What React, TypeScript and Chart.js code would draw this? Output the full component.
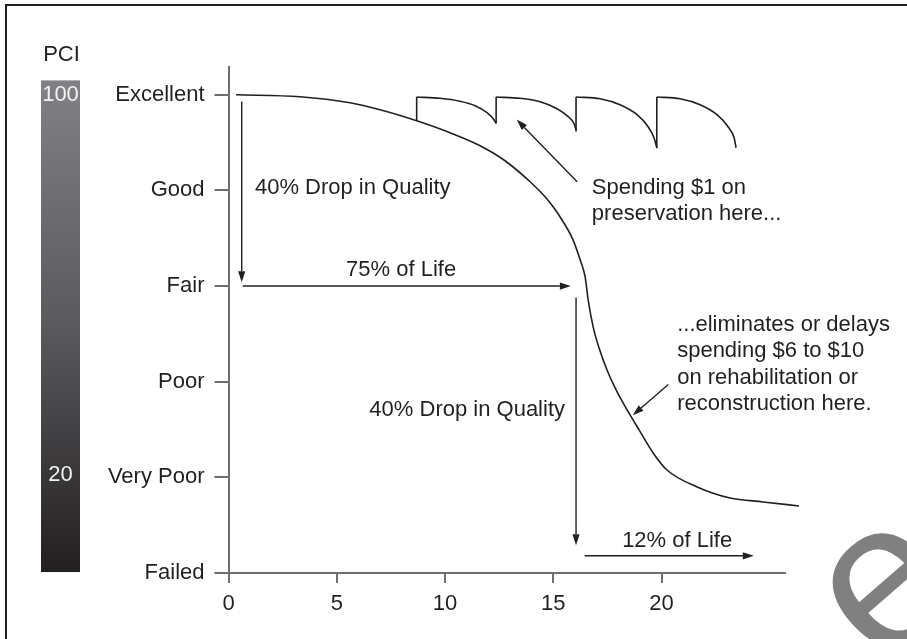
import { useEffect, useRef } from "react";
import { Chart, registerables } from "chart.js";

Chart.register(...registerables);

// ---------- data ----------
const conditionLabels = ["Failed", "Very Poor", "Poor", "Fair", "Good", "Excellent"];
const yearTickValues = [0, 5, 10, 15, 20];
const pciScaleLabels = ["100", "20"];

// main deterioration curve (x: years, y: condition level 0=Failed .. 5=Excellent)
const curveYears = [0.35, 3.3, 5.61, 7.0, 8.69, 10.23, 11.62, 12.77, 13.93, 14.62, 14.99, 15.31, 15.91, 16.24, 16.47, 16.61, 16.84, 17.11, 17.48, 17.9, 18.41, 18.96, 19.61, 20.25, 21.64, 23.16, 24.69, 26.35];
const curveCondition = [5.0, 4.979, 4.916, 4.843, 4.728, 4.603, 4.467, 4.31, 4.09, 3.933, 3.828, 3.724, 3.483, 3.274, 3.096, 2.856, 2.573, 2.354, 2.123, 1.914, 1.705, 1.496, 1.255, 1.077, 0.9, 0.785, 0.743, 0.701];

// preservation treatment cycles
const treatmentYears = [8.69, 12.36, 16.05, 19.78];
const treatmentFromCondition = [4.728, 4.7, 4.616, 4.44];
const treatmentToCondition = [4.976, 4.976, 4.976, 4.976];

const cycle1Years = [8.69, 9.77, 10.69, 11.39, 11.94, 12.26, 12.36];
const cycle1Condition = [4.976, 4.963, 4.932, 4.885, 4.812, 4.738, 4.7];
const cycle2Years = [12.36, 13.46, 14.39, 15.08, 15.64, 15.96, 16.05];
const cycle2Condition = [4.976, 4.963, 4.927, 4.864, 4.78, 4.697, 4.63];
const cycle3Years = [16.05, 17.16, 18.08, 18.87, 19.38, 19.65, 19.78];
const cycle3Condition = [4.976, 4.958, 4.895, 4.791, 4.665, 4.55, 4.446];
const cycle4Years = [19.78, 20.85, 21.78, 22.56, 23.07, 23.35, 23.44];
const cycle4Condition = [4.976, 4.958, 4.895, 4.791, 4.665, 4.55, 4.446];

// annotation arrows [x1, y1, x2(tip), y2(tip)]
const arrowLines = [
  [0.61, 4.93, 0.61, 3.04],
  [0.66, 3.0, 15.81, 3.0],
  [16.05, 2.88, 16.05, 0.29],
  [16.45, 0.18, 24.26, 0.18],
  [16.1, 4.09, 13.31, 4.74],
  [20.31, 1.97, 18.67, 1.65],
];

// annotation texts
const noteTexts = ["40% Drop in Quality", "75% of Life", "40% Drop in Quality", "12% of Life"];
const noteX = [1.22, 7.97, 15.54, 20.72];
const noteY = [4.03, 3.17, 1.705, 0.335];
const noteAlign = ["left", "center", "right", "center"];

const calloutPreservation = ["Spending $1 on", "preservation here..."];
const calloutRehab = ["...eliminates or delays", "spending $6 to $10", "on rehabilitation or", "reconstruction here."];

// ---------- styles ----------
const FONT = "'Liberation Sans', Arial, Helvetica, sans-serif";
const INK = "#231f20";
const AXIS = "#6d6e71";
const TEXT_SIZE = 22;

const pts = (xs: number[], ys: number[]) => xs.map((x, i) => ({ x, y: ys[i] }));

function drawArrow(ctx: CanvasRenderingContext2D, x1: number, y1: number, x2: number, y2: number) {
  const ang = Math.atan2(y2 - y1, x2 - x1);
  const len = 11;
  const hw = 3.6;
  const bx = x2 - len * Math.cos(ang);
  const by = y2 - len * Math.sin(ang);
  ctx.beginPath();
  ctx.moveTo(x1, y1);
  ctx.lineTo(bx, by);
  ctx.strokeStyle = INK;
  ctx.lineWidth = 1.4;
  ctx.stroke();
  ctx.beginPath();
  ctx.moveTo(x2, y2);
  ctx.lineTo(bx + hw * Math.sin(ang), by - hw * Math.cos(ang));
  ctx.lineTo(bx - hw * Math.sin(ang), by + hw * Math.cos(ang));
  ctx.closePath();
  ctx.fillStyle = INK;
  ctx.fill();
}

const decorPlugin = {
  id: "decor",
  beforeDraw(chart: any) {
    const { ctx } = chart;
    const ys = chart.scales.y;
    ctx.save();
    ctx.fillStyle = "#ffffff";
    ctx.fillRect(0, 0, chart.width, chart.height);
    // frame (top and left edges)
    ctx.fillStyle = INK;
    ctx.fillRect(5, 4, chart.width - 5, 2);
    ctx.fillRect(5, 4, 2, chart.height - 4);
    // PCI bar
    const top = ys.getPixelForValue(5.15);
    const bottom = ys.getPixelForValue(0.01);
    const g = ctx.createLinearGradient(0, top, 0, bottom);
    g.addColorStop(0, "#818185");
    g.addColorStop(0.5, "#5a5a5d");
    g.addColorStop(1, "#231f20");
    ctx.fillStyle = g;
    ctx.fillRect(41, top, 39, bottom - top);
    ctx.font = `${TEXT_SIZE}px ${FONT}`;
    ctx.textAlign = "center";
    ctx.textBaseline = "middle";
    ctx.fillStyle = INK;
    ctx.fillText("PCI", 61.5, 55);
    ctx.fillStyle = "#f2f2f2";
    ctx.fillText(pciScaleLabels[0], 60.5, ys.getPixelForValue(5.0));
    ctx.fillText(pciScaleLabels[1], 60.5, ys.getPixelForValue(1.03));
    ctx.restore();
  },
  afterDraw(chart: any) {
    const { ctx } = chart;
    const xs = chart.scales.x;
    const ys = chart.scales.y;
    const px = (v: number) => xs.getPixelForValue(v);
    const py = (v: number) => ys.getPixelForValue(v);
    ctx.save();
    arrowLines.forEach((a) => drawArrow(ctx, px(a[0]), py(a[1]), px(a[2]), py(a[3])));
    ctx.font = `${TEXT_SIZE}px ${FONT}`;
    ctx.fillStyle = INK;
    ctx.textBaseline = "middle";
    noteTexts.forEach((t, i) => {
      ctx.textAlign = noteAlign[i] as CanvasTextAlign;
      ctx.fillText(t, px(noteX[i]), py(noteY[i]));
    });
    ctx.textAlign = "left";
    calloutPreservation.forEach((t, i) => ctx.fillText(t, px(16.78), py(4.03) + i * 26.5));
    calloutRehab.forEach((t, i) => ctx.fillText(t, px(20.72), py(2.594) + i * 26.3));
    // watermark fragment in the corner
    ctx.translate(969, 594);
    ctx.rotate((-41 * Math.PI) / 180);
    ctx.font = `210px ${FONT}`;
    ctx.fillStyle = "#808080";
    ctx.textAlign = "right";
    ctx.textBaseline = "alphabetic";
    ctx.fillText("e", 0, 0);
    ctx.restore();
  },
};

export default function App() {
  const ref = useRef<HTMLCanvasElement | null>(null);
  useEffect(() => {
    if (!ref.current) return;
    const lineStyle = {
      borderColor: INK,
      borderWidth: 1.6,
      pointRadius: 0,
      fill: false,
      clip: false as any,
    };
    const datasets: any[] = [
      { ...lineStyle, data: pts(curveYears, curveCondition), cubicInterpolationMode: "monotone" },
      { ...lineStyle, data: pts(cycle1Years, cycle1Condition), cubicInterpolationMode: "monotone" },
      { ...lineStyle, data: pts(cycle2Years, cycle2Condition), cubicInterpolationMode: "monotone" },
      { ...lineStyle, data: pts(cycle3Years, cycle3Condition), cubicInterpolationMode: "monotone" },
      { ...lineStyle, data: pts(cycle4Years, cycle4Condition), cubicInterpolationMode: "monotone" },
      ...treatmentYears.map((x, i) => ({
        ...lineStyle,
        data: [
          { x, y: treatmentFromCondition[i] },
          { x, y: treatmentToCondition[i] },
        ],
      })),
    ];
    const tickFont = { family: FONT, size: TEXT_SIZE };
    const chart = new Chart(ref.current, {
      type: "line",
      data: { datasets },
      options: {
        animation: false,
        responsive: false,
        maintainAspectRatio: false,
        layout: { padding: { left: 0, right: 122, top: 67, bottom: 26 } },
        plugins: { legend: { display: false }, tooltip: { enabled: false } },
        scales: {
          x: {
            type: "linear",
            min: 0,
            max: 25.7,
            ticks: {
              stepSize: 5,
              includeBounds: false,
              padding: 8,
              color: INK,
              font: tickFont,
              maxRotation: 0,
            },
            afterBuildTicks: (s: any) => {
              s.ticks = yearTickValues.map((v) => ({ value: v }));
            },
            afterFit: (s: any) => {
              s.height = 40;
            },
            grid: { drawOnChartArea: false, drawTicks: true, tickLength: 10, color: AXIS, lineWidth: 2 },
            border: { display: true, color: AXIS, width: 2 },
          },
          y: {
            type: "linear",
            min: 0,
            max: 5.29,
            ticks: {
              stepSize: 1,
              includeBounds: false,
              padding: 10,
              color: INK,
              font: tickFont,
              callback: (v: any) => conditionLabels[Math.round(v)] ?? "",
            },
            afterBuildTicks: (s: any) => {
              s.ticks = conditionLabels.map((_, i) => ({ value: i }));
            },
            afterFit: (s: any) => {
              s.width = 228.5;
            },
            grid: { drawOnChartArea: false, drawTicks: true, tickLength: 14, color: AXIS, lineWidth: 2 },
            border: { display: true, color: AXIS, width: 2 },
          },
        },
      },
      plugins: [decorPlugin],
    });
    return () => chart.destroy();
  }, []);
  return (
    <div style={{ position: "absolute", left: 0, top: 0, width: 907, height: 639 }}>
      <canvas ref={ref} width={907} height={639} style={{ display: "block" }} />
    </div>
  );
}
